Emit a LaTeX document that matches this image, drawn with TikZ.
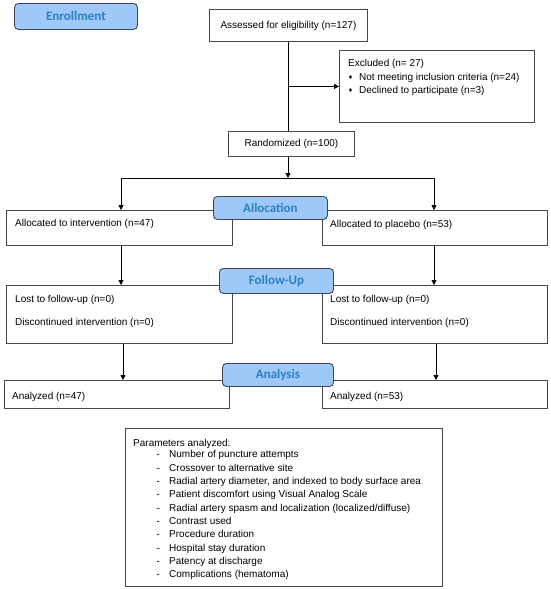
\documentclass[tikz,border=0pt]{standalone}
\usepackage{fontspec}
\setmainfont{Liberation Sans}
\newfontfamily\labfont{Carlito}
\newfontfamily\symfont{DejaVu Sans}
\usetikzlibrary{arrows.meta}
\definecolor{labfill}{HTML}{9DC8F8}
\definecolor{labline}{HTML}{3C4656}
\definecolor{labtext}{HTML}{2A80C4}
\definecolor{boxline}{HTML}{484848}
\tikzset{
  box/.style={draw=boxline, line width=0.9pt, anchor=north west, inner sep=0pt, fill=white},
  cbox/.style={box, font=\fontsize{10}{12}\selectfont},
  txt/.style={anchor=base west, inner sep=0pt, font=\fontsize{10}{12}\selectfont},
  bul/.style={anchor=center, inner sep=0pt, font=\symfont\fontsize{5.5}{6}\selectfont},
  lab/.style={draw=labline, fill=labfill, rounded corners=4pt, line width=0.9pt,
    font=\labfont\bfseries\fontsize{13}{15}\selectfont, text=labtext,
    anchor=north west, inner sep=0pt},
  ln/.style={line width=0.8pt, draw=black},
  arr/.style={ln, -{Triangle[width=5pt,length=5pt]}}
}
\begin{document}
\begin{tikzpicture}[x=1pt,y=-1pt]
\useasboundingbox (0,0) rectangle (550,589);
\fill[white] (0,0) rectangle (550,589);

% boxes
\node[cbox, minimum width=158pt, minimum height=32pt] (assess) at (209,9) {Assessed for eligibility (n=127)};
\node[box, minimum width=195pt, minimum height=72pt] (excl) at (339,50) {};
\node[cbox, minimum width=126pt, minimum height=25pt] (rand) at (228,131) {Randomized (n=100)};
\node[box, minimum width=226pt, minimum height=35pt] (ai) at (6,210) {};
\node[box, minimum width=225pt, minimum height=35pt] (ap) at (322,210) {};
\node[box, minimum width=226pt, minimum height=58pt] (fl) at (6,285) {};
\node[box, minimum width=225pt, minimum height=58pt] (fr) at (322,285) {};
\node[box, minimum width=225pt, minimum height=28pt] (nl) at (4,380) {};
\node[box, minimum width=225pt, minimum height=28pt] (nr) at (322,380) {};
\node[box, minimum width=317pt, minimum height=158pt] (par) at (125,428) {};

% texts in boxes
\node[txt] (ex0) at (348,66.5) {Excluded (n= 27)};
\node[bul] (b1) at (350.5,77) {♦};
\node[txt] (ex1) at (359,80.5) {Not meeting inclusion criteria (n=24)};
\node[bul] (b2) at (350.5,90) {♦};
\node[txt] (ex2) at (359,93.5) {Declined to participate (n=3)};

\node[txt] (ait) at (15,226.5) {Allocated to intervention (n=47)};
\node[txt] (apt) at (330,227.5) {Allocated to placebo (n=53)};

\node[txt] (fl1) at (15,302.5) {Lost to follow-up (n=0)};
\node[txt] (fl2) at (15,325.5) {Discontinued intervention (n=0)};
\node[txt] (fr1) at (330,302.5) {Lost to follow-up (n=0)};
\node[txt] (fr2) at (330,325.5) {Discontinued intervention (n=0)};

\node[txt] (nlt) at (12,399.5) {Analyzed (n=47)};
\node[txt] (nrt) at (330,399.5) {Analyzed (n=53)};

\node[txt] (ph) at (133,446.5) {Parameters analyzed:};
\foreach \t [count=\i from 0] in {Number of puncture attempts,
  Crossover to alternative site,
  {Radial artery diameter, and indexed to body surface area},
  Patient discomfort using Visual Analog Scale,
  Radial artery spasm and localization (localized/diffuse),
  Contrast used,
  Procedure duration,
  Hospital stay duration,
  Patency at discharge,
  Complications (hematoma)}{
  \node[txt] (pd\i) at (156.5,457.8+13.33*\i) {-};
  \node[txt] (pi\i) at (169,457.8+13.33*\i) {\t};
}

% connectors
\coordinate (split) at (288,178);
\coordinate (jl) at (121,178);
\coordinate (jr) at (434,178);
\coordinate (kl) at (123,360);
\coordinate (kr) at (436,360);
\draw[ln] (assess.south -| split) -- (rand.north -| split);
\draw[arr] (split |- excl.west) -- (excl.west);
\draw[arr] (rand.south -| split) -- (split);
\draw[ln] (jl) -- (jr);
\draw[arr] (jl) -- (jl |- ai.north);
\draw[arr] (jr) -- (jr |- ap.north);
\draw[arr] (ai.south -| jl) -- (fl.north -| jl);
\draw[arr] (ap.south -| jr) -- (fr.north -| jr);
\draw[arr] (fl.south -| kl) -- (nl.north -| kl);
\draw[arr] (fr.south -| kr) -- (nr.north -| kr);

% stage labels
\node[lab, minimum width=123pt, minimum height=26pt] (enr) at (14,3) {Enrollment};
\node[lab, minimum width=114pt, minimum height=23pt] (alloc) at (213,196) {Allocation};
\node[lab, minimum width=114pt, minimum height=25pt] (fu) at (219,268) {Follow-Up};
\node[lab, minimum width=111pt, minimum height=23pt] (ana) at (222,363) {Analysis};
\end{tikzpicture}
\end{document}
